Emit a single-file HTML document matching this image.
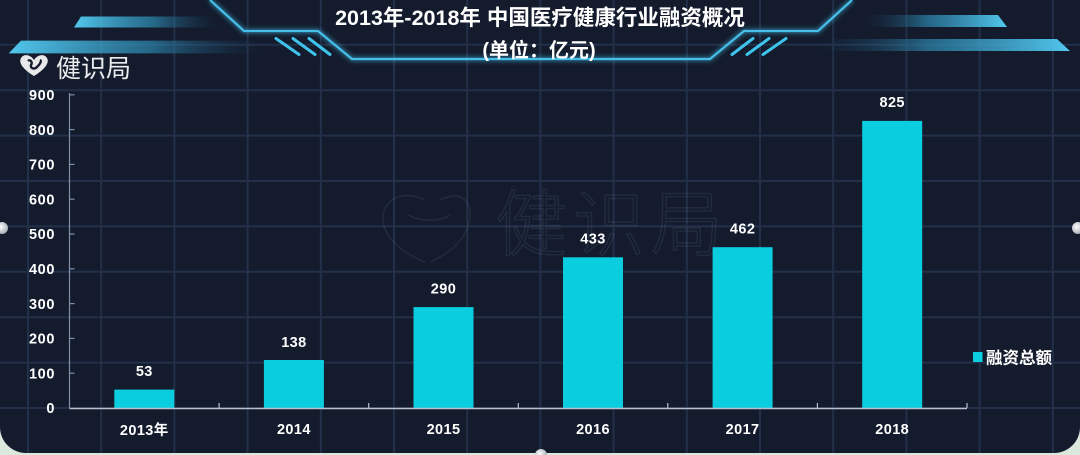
<!DOCTYPE html>
<html><head><meta charset="utf-8"><style>
html,body{margin:0;padding:0;width:1080px;height:455px;overflow:hidden;background:#dbe8de;}
svg{display:block;}
text{font-family:"Liberation Sans","Noto Sans CJK SC",sans-serif;}
</style></head><body>
<svg width="1080" height="455" viewBox="0 0 1080 455" xmlns="http://www.w3.org/2000/svg">
<defs>
<linearGradient id="gl" x1="0" x2="1" y1="0" y2="0">
<stop offset="0" stop-color="#52c8ee"/><stop offset="0.55" stop-color="#2d86ad" stop-opacity="0.7"/><stop offset="1" stop-color="#1a3550" stop-opacity="0"/>
</linearGradient>
<linearGradient id="gr" x1="1" x2="0" y1="0" y2="0">
<stop offset="0" stop-color="#52c8ee"/><stop offset="0.55" stop-color="#2d86ad" stop-opacity="0.7"/><stop offset="1" stop-color="#1a3550" stop-opacity="0"/>
</linearGradient>
<radialGradient id="dot" cx="0.4" cy="0.4" r="0.6">
<stop offset="0" stop-color="#ffffff"/><stop offset="1" stop-color="#aab0b8"/>
</radialGradient>
<filter id="blur" x="-10%" y="-50%" width="120%" height="200%"><feGaussianBlur stdDeviation="2"/></filter>
</defs>
<rect x="0" y="-30" width="1080" height="483" rx="26" ry="26" fill="#131b2c"/>
<g stroke="#233049" stroke-width="2">
<line x1="28" y1="0" x2="28" y2="453"/><line x1="101.2" y1="0" x2="101.2" y2="453"/><line x1="174.4" y1="0" x2="174.4" y2="453"/><line x1="247.6" y1="0" x2="247.6" y2="453"/><line x1="320.8" y1="0" x2="320.8" y2="453"/><line x1="394" y1="0" x2="394" y2="453"/><line x1="467.2" y1="0" x2="467.2" y2="453"/><line x1="540.4" y1="0" x2="540.4" y2="453"/><line x1="613.6" y1="0" x2="613.6" y2="453"/><line x1="686.8" y1="0" x2="686.8" y2="453"/><line x1="760" y1="0" x2="760" y2="453"/><line x1="833.2" y1="0" x2="833.2" y2="453"/><line x1="906.4" y1="0" x2="906.4" y2="453"/><line x1="979.6" y1="0" x2="979.6" y2="453"/><line x1="1052.8" y1="0" x2="1052.8" y2="453"/>
<line x1="0" y1="44.8" x2="1080" y2="44.8"/><line x1="0" y1="90.2" x2="1080" y2="90.2"/><line x1="0" y1="135.6" x2="1080" y2="135.6"/><line x1="0" y1="181" x2="1080" y2="181"/><line x1="0" y1="226.4" x2="1080" y2="226.4"/><line x1="0" y1="271.8" x2="1080" y2="271.8"/><line x1="0" y1="317.2" x2="1080" y2="317.2"/><line x1="0" y1="362.6" x2="1080" y2="362.6"/><line x1="0" y1="408" x2="1080" y2="408"/>
</g>
<!-- watermark -->
<g fill="none" stroke="#8e9bb0" stroke-opacity="0.13" stroke-width="1.5">
<path d="M425,200 C395,185 372,210 388,235 C398,250 415,258 425,262 M440,200 C470,185 478,215 462,238 C452,252 438,258 430,262 M408,215 C420,222 440,222 450,215"/>
<text x="495" y="250" font-size="72" font-family="Noto Sans CJK SC,sans-serif" font-weight="300" letter-spacing="6">健识局</text>
</g>
<!-- top decorations -->
<polygon points="81,16.5 222,16.5 222,27.5 74,27.5" fill="url(#gl)"/>
<polygon points="21,40.6 268,40.6 268,53.4 8.6,53.4" fill="url(#gl)"/>
<polygon points="862,15 998,15 1007,27 862,27" fill="url(#gr)"/>
<polygon points="812,39 1057,39 1070,51 812,51" fill="url(#gr)"/>
<path d="M210,0 L244,31 L318,31 L352,59 L710,59 L744,31 L818,31 L852,0" fill="none" stroke="#3fb6e2" stroke-width="5" stroke-opacity="0.5" filter="url(#blur)"/>
<path d="M210,0 L244,31 L318,31 L352,59 L710,59 L744,31 L818,31 L852,0" fill="none" stroke="#45bfe8" stroke-width="2.2"/>
<g stroke="#3ec3ec" stroke-width="3" stroke-linecap="round">
<line x1="276" y1="38.5" x2="299" y2="54.5"/><line x1="293" y1="38.5" x2="315" y2="54.5"/><line x1="309" y1="38.5" x2="330" y2="54.5"/>
<line x1="786" y1="38.5" x2="763" y2="54.5"/><line x1="769" y1="38.5" x2="747" y2="54.5"/><line x1="753" y1="38.5" x2="732" y2="54.5"/>
</g>
<!-- title -->
<text x="540" y="25" font-size="21.5" font-weight="bold" fill="#ffffff" text-anchor="middle">2013年-2018年 中国医疗健康行业融资概况</text>
<text x="539" y="57" font-size="20" font-weight="bold" fill="#ffffff" text-anchor="middle">(单位：亿元)</text>
<!-- logo -->
<g>
<path d="M34,76 C24,70 18,63 21,58 C24,53 31,55 34,60 C37,55 44,53 47,58 C50,63 44,70 34,76 Z" fill="#e8e8ea"/>
<path d="M28,61 C30,59 33,62 31,65 C30,68 34,70 37,67 C40,64 42,61 40,60" fill="none" stroke="#131b2c" stroke-width="2.4"/>
<text x="56" y="77" font-size="25" fill="#ececee" font-family="Noto Sans CJK SC,sans-serif" font-weight="400">健识局</text>
</g>
<!-- axes -->
<line x1="69.5" y1="93" x2="69.5" y2="408" stroke="#7f90aa" stroke-width="1.2"/>
<g stroke="#7f90aa" stroke-width="1.2">
<line x1="69.5" y1="94.8" x2="74.5" y2="94.8"/><line x1="69.5" y1="129.6" x2="74.5" y2="129.6"/><line x1="69.5" y1="164.4" x2="74.5" y2="164.4"/><line x1="69.5" y1="199.2" x2="74.5" y2="199.2"/><line x1="69.5" y1="234" x2="74.5" y2="234"/><line x1="69.5" y1="268.8" x2="74.5" y2="268.8"/><line x1="69.5" y1="303.6" x2="74.5" y2="303.6"/><line x1="69.5" y1="338.4" x2="74.5" y2="338.4"/><line x1="69.5" y1="373.2" x2="74.5" y2="373.2"/>
</g>
<g font-size="14.5" font-weight="bold" fill="#ffffff" text-anchor="end" letter-spacing="0.6">
<text x="55" y="100">900</text><text x="55" y="134.8">800</text><text x="55" y="169.6">700</text><text x="55" y="204.4">600</text><text x="55" y="239.2">500</text><text x="55" y="274">400</text><text x="55" y="308.8">300</text><text x="55" y="343.6">200</text><text x="55" y="378.4">100</text><text x="55" y="413.2">0</text>
</g>
<!-- bars -->
<g fill="#0bcde0">
<rect x="114.3" y="389.6" width="60" height="18.4"/>
<rect x="263.9" y="360" width="60" height="48"/>
<rect x="413.5" y="307.1" width="60" height="100.9"/>
<rect x="563" y="257.3" width="60" height="150.7"/>
<rect x="712.6" y="247.2" width="60" height="160.8"/>
<rect x="862.2" y="120.9" width="60" height="287.1"/>
</g>
<line x1="69.5" y1="408.5" x2="967" y2="408.5" stroke="#b7c0cd" stroke-width="1.6"/>
<g stroke="#b7c0cd" stroke-width="1.2">
<line x1="219.1" y1="403" x2="219.1" y2="408"/><line x1="368.7" y1="403" x2="368.7" y2="408"/><line x1="518.3" y1="403" x2="518.3" y2="408"/><line x1="667.8" y1="403" x2="667.8" y2="408"/><line x1="817.4" y1="403" x2="817.4" y2="408"/><line x1="967" y1="403" x2="967" y2="408"/>
</g>
<g font-size="14.5" font-weight="bold" fill="#ffffff" text-anchor="middle" letter-spacing="0.4">
<text x="144.3" y="376">53</text><text x="293.9" y="347">138</text><text x="443.5" y="293.5">290</text><text x="593" y="243.5">433</text><text x="742.6" y="233.5">462</text><text x="892.2" y="107">825</text>
</g>
<g font-size="14.5" font-weight="bold" fill="#ffffff" text-anchor="middle" letter-spacing="0.4">
<text x="144.3" y="435">2013年</text><text x="293.9" y="434">2014</text><text x="443.5" y="434">2015</text><text x="593" y="434">2016</text><text x="742.6" y="434">2017</text><text x="892.2" y="434">2018</text>
</g>
<!-- legend -->
<rect x="973" y="352" width="9.5" height="10" fill="#0bcde0"/>
<text x="986" y="363.5" font-size="16.5" font-weight="bold" fill="#ffffff">融资总额</text>
<!-- handles -->
<circle cx="2" cy="228" r="6" fill="url(#dot)"/>
<circle cx="1078" cy="228" r="6" fill="url(#dot)"/>
<circle cx="541" cy="455" r="6" fill="url(#dot)"/>
</svg>
</body></html>
